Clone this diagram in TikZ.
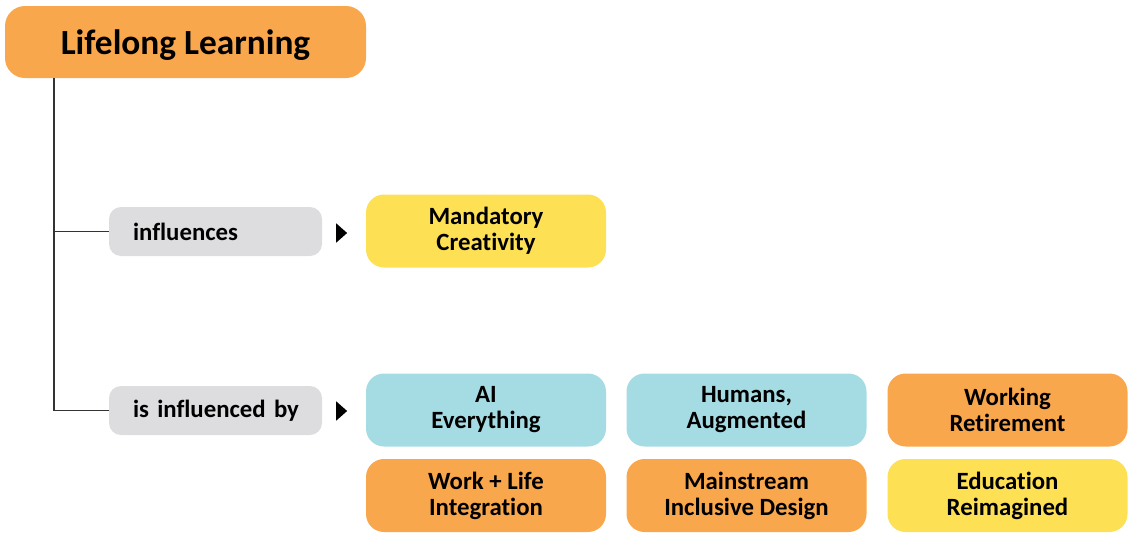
\documentclass[tikz,border=0pt]{standalone}
\usepackage{fontspec}
\setmainfont{Carlito}[Ligatures=NoCommon]
\usetikzlibrary{shapes.geometric,positioning}
\definecolor{corange}{HTML}{F9A74C}
\definecolor{cblue}{HTML}{A5DBE3}
\definecolor{cyellow}{HTML}{FDE054}
\definecolor{cgray}{HTML}{DDDDDF}

\begin{document}
\begin{tikzpicture}[x=0.75pt,y=-0.75pt,
  topic/.style={rounded corners=13.5pt,minimum width=180pt,minimum height=54.75pt,
    align=center,inner sep=0pt,font=\fontsize{18.6}{19.5}\bfseries},
  relation/.style={fill=cgray,rounded corners=9pt,minimum height=36.75pt,text width=141.75pt,
    inner xsep=9pt,inner ysep=0pt,align=left,font=\fontsize{18.6}{19.5}\bfseries,
    execute at begin node={\hspace*{9pt}}},
  pointer/.style={isosceles triangle,isosceles triangle stretches,fill=black,inner sep=0pt,
    minimum width=14.6pt,minimum height=8.25pt},
  branch/.style={black!80,line width=1pt}]
\useasboundingbox (0,0) rectangle (1131,532);

% root
\node[fill=corange,rounded corners=15pt,minimum width=270.75pt,minimum height=54pt,
  text depth=0pt,font=\fontsize{26.5}{30}\bfseries] (title) at (185.5,42) {Lifelong Learning};
\coordinate (trunk) at (54,78);

% relations
\node[relation] (infl) at (215.5,231.5) {influences};
\node[relation] (inflby) at (215.5,410.5) {is influenced by};
\node[pointer] (tri1) at (340.5,233) {};
\node[pointer] (tri2) at (340.5,411) {};

% topics
\node[topic,fill=cyellow] (mandcreat) at (486,231) {Mandatory\\Creativity};
\node[topic,fill=cblue] (ai) at (486,410) {AI\\Everything};
\node[topic,fill=cblue] (humans) at (746.5,410) {Humans,\\Augmented};
\node[topic,fill=corange] (workret) at (1007.5,410) {Working\\Retirement};
\node[topic,fill=corange] (worklife) at (486,495.5) {Work + Life\\Integration};
\node[topic,fill=corange] (inclusive) at (746.5,495.5) {Mainstream\\Inclusive Design};
\node[topic,fill=cyellow] (edu) at (1007.5,495.5) {Education\\Reimagined};

% tree lines
\draw[branch] (trunk) |- (inflby.west);
\draw[branch] (trunk |- infl.west) -- (infl.west);
\end{tikzpicture}
\end{document}
